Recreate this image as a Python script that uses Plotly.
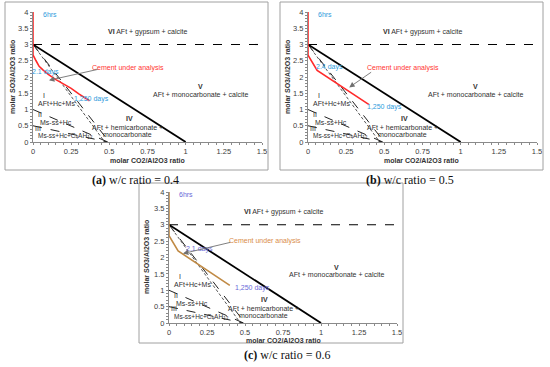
import plotly.graph_objects as go

W, H = 550, 367

# ---------------- data ----------------
x_ticks = [0, 0.25, 0.5, 0.75, 1, 1.25, 1.5]
x_tick_labels = ["0", "0.25", "0.5", "0.75", "1", "1.25", "1.5"]
y_ticks = [0, 0.5, 1, 1.5, 2, 2.5, 3, 3.5, 4]
y_tick_labels = ["0", "0.5", "1", "1.5", "2", "2.5", "3", "3.5", "4"]

# phase-boundary lines (same for all panels)
gyp_x, gyp_y = [0, 1.5], [3, 3]
mono_x, mono_y = [0, 1], [3, 0]
b1_x, b1_y = [0, 0.5], [3, 0]
b2_x, b2_y = [0, 0.47], [3, 0]
b3_x, b3_y = [0, 0.49], [1, 0]
b4_x, b4_y = [0, 0.49], [0.5, 0]

# cement trajectories (6 hrs -> 1,250 days)
a_path_x = [0, 0, 0.02, 0.04, 0.065, 0.1, 0.15, 0.2, 0.25, 0.3, 0.37]
a_path_y = [4, 2.68, 2.5, 2.33, 2.22, 2.08, 1.92, 1.78, 1.65, 1.48, 1.27]
b_path_x = [0, 0, 0.06, 0.4]
b_path_y = [4, 2.67, 2.2, 1.15]
c_path_x = [0, 0, 0.06, 0.4]
c_path_y = [4, 2.67, 2.2, 1.15]

captions = ["<b>(a)</b> w/c ratio = 0.4", "<b>(b)</b> w/c ratio = 0.5", "<b>(c)</b> w/c ratio = 0.6"]
early_labels = ["2.1 days", "2.4 days", "2.1 days"]

# ---------------- layout geometry ----------------
def px_x(p):
    return p / W

def px_y(p):
    return 1 - p / H

panels = [
    dict(dom_x=(33, 262), dom_y=(12, 142), box=(5, 2, 268, 170), cap=(135, 180),
         xt=(147, 160), yt=(12, 77),
         path=(a_path_x, a_path_y), pcol="#ff2a2a", lcol="#2e9bdc", ccol="#ff3333",
         early=(0.085, 2.15), late=(0.385, 1.33), cem=(0.62, 2.27),
         arrow_from=(0.44, 2.25), arrow_to=(0.105, 1.9)),
    dict(dom_x=(308, 537), dom_y=(12, 142), box=(280, 2, 543, 170), cap=(410, 180),
         xt=(422, 160), yt=(287, 77),
         path=(b_path_x, b_path_y), pcol="#ff2a2a", lcol="#2e9bdc", ccol="#ff3333",
         early=(0.14, 2.32), late=(0.5, 1.08), cem=(0.62, 2.27),
         arrow_from=(0.43, 2.2), arrow_to=(0.27, 1.68)),
    dict(dom_x=(169, 397), dom_y=(192, 323), box=(139, 183, 403, 343), cap=(287, 355),
         xt=(283, 340), yt=(146, 257),
         path=(c_path_x, c_path_y), pcol="#c08a45", lcol="#6a6ad8", ccol="#d98c4a",
         early=(0.2, 2.26), late=(0.55, 1.07), cem=(0.63, 2.5),
         arrow_from=(0.42, 2.48), arrow_to=(0.092, 2.12)),
]

NARROW = "Liberation Sans Narrow, Liberation Sans"

region_labels = [
    ("<b>VI</b> AFt + gypsum + calcite", 0.75, 3.38, "center", 7),
    ("<b>V</b>", 1.1, 1.7, "center", 7),
    ("AFt + monocarbonate + calcite", 1.1, 1.47, "center", 7),
    ("<b>IV</b>", 0.63, 0.72, "center", 7),
    ("AFt + hemicarbonate +", 0.62, 0.45, "center", 7),
    ("monocarbonate", 0.62, 0.24, "center", 7),
    ("I", 0.07, 1.42, "center", 7),
    ("AFt+Hc+Ms", 0.155, 1.17, "center", 7),
    ("II", 0.045, 0.84, "center", 7),
    ("Ms-ss+Hc", 0.035, 0.59, "left", 7),
    ("III", 0.03, 0.43, "center", 7),
    ("Ms-ss+Hc+C<sub>4</sub>AH<sub>13</sub>", 0.02, 0.18, "left", 6.5),
]

fig = go.Figure()
shapes = []
annotations = []
TICKFONT = dict(family="Liberation Sans", size=7.5, color="#404040")

for i, p in enumerate(panels):
    s = "" if i == 0 else str(i + 1)
    xa, ya = "x" + s, "y" + s
    line_specs = [
        (gyp_x, gyp_y, dict(color="black", width=1.1, dash="dash")),
        (b1_x, b1_y, dict(color="#222", width=1.0, dash="dash")),
        (b2_x, b2_y, dict(color="#444", width=0.9, dash="3px,2px")),
        (b3_x, b3_y, dict(color="#222", width=1.0, dash="dash")),
        (b4_x, b4_y, dict(color="#222", width=1.0, dash="dash")),
        (mono_x, mono_y, dict(color="black", width=1.8)),
    ]
    for lx, ly, ls in line_specs:
        fig.add_trace(go.Scatter(x=lx, y=ly, mode="lines", line=ls, xaxis=xa, yaxis=ya,
                                 showlegend=False, hoverinfo="skip", cliponaxis=False))
    fig.add_trace(go.Scatter(x=p["path"][0], y=p["path"][1], mode="lines",
                             line=dict(color=p["pcol"], width=1.6), xaxis=xa, yaxis=ya,
                             showlegend=False, cliponaxis=False))

    layout_x = dict(domain=[px_x(p["dom_x"][0]), px_x(p["dom_x"][1])], range=[0, 1.5],
                    tickvals=x_ticks, ticktext=x_tick_labels, showgrid=False, zeroline=False,
                    showline=True, linecolor="#8a8a8a", linewidth=1, ticks="outside",
                    ticklen=2, tickcolor="#8a8a8a", tickfont=TICKFONT, anchor=ya, automargin=False,
                    minor=dict(dtick=0.05, ticks="outside", ticklen=2, tickcolor="#8a8a8a"))
    layout_y = dict(domain=[px_y(p["dom_y"][1]), px_y(p["dom_y"][0])], range=[0, 4],
                    tickvals=y_ticks, ticktext=y_tick_labels, showgrid=False, zeroline=False,
                    showline=True, linecolor="#8a8a8a", linewidth=1, ticks="outside",
                    ticklen=2, tickcolor="#8a8a8a", tickfont=TICKFONT, anchor=xa, automargin=False,
                    minor=dict(dtick=0.1, ticks="outside", ticklen=2, tickcolor="#8a8a8a"))
    fig.update_layout(**{("xaxis" + s): layout_x, ("yaxis" + s): layout_y})

    bx0, by0, bx1, by1 = p["box"]
    shapes.append(dict(type="rect", xref="paper", yref="paper",
                       x0=px_x(bx0), x1=px_x(bx1), y0=px_y(by1), y1=px_y(by0),
                       line=dict(color="#a0a0a0", width=1)))
    annotations.append(dict(text=captions[i], xref="paper", yref="paper",
                            x=px_x(p["cap"][0]), y=px_y(p["cap"][1]), showarrow=False,
                            xanchor="center", yanchor="middle",
                            font=dict(family="Liberation Serif", size=12, color="#111")))
    annotations.append(dict(text="<b>molar CO2/Al2O3 ratio</b>", xref="paper", yref="paper",
                            x=px_x(p["xt"][0]), y=px_y(p["xt"][1]), showarrow=False,
                            xanchor="center", yanchor="middle",
                            font=dict(family="Liberation Sans", size=7, color="#333")))
    annotations.append(dict(text="<b>molar SO3/Al2O3 ratio</b>", xref="paper", yref="paper",
                            x=px_x(p["yt"][0]), y=px_y(p["yt"][1]), showarrow=False, textangle=-90,
                            xanchor="center", yanchor="middle",
                            font=dict(family="Liberation Sans", size=7, color="#333")))
    for txt, tx, ty, al, fs in region_labels:
        annotations.append(dict(text=txt, xref=xa, yref=ya, x=tx, y=ty, showarrow=False,
                                xanchor=al, font=dict(family=NARROW, size=fs, color="#303030")))
    annotations.append(dict(text="6hrs", xref=xa, yref=ya, x=0.05, y=3.92, showarrow=False,
                            xanchor="left", font=dict(family=NARROW, size=7, color=p["lcol"])))
    annotations.append(dict(text=early_labels[i], xref=xa, yref=ya, x=p["early"][0], y=p["early"][1],
                            showarrow=False, font=dict(family=NARROW, size=7, color=p["lcol"])))
    annotations.append(dict(text="1,250 days", xref=xa, yref=ya, x=p["late"][0], y=p["late"][1],
                            showarrow=False, font=dict(family=NARROW, size=7, color=p["lcol"])))
    annotations.append(dict(text="Cement under analysis", xref=xa, yref=ya, x=p["cem"][0], y=p["cem"][1],
                            showarrow=False, font=dict(family=NARROW, size=7, color=p["ccol"])))
    annotations.append(dict(text=" ", xref=xa, yref=ya, axref=xa, ayref=ya,
                            x=p["arrow_to"][0], y=p["arrow_to"][1],
                            ax=p["arrow_from"][0], ay=p["arrow_from"][1],
                            showarrow=True, arrowhead=2, arrowsize=1.2, arrowwidth=0.9,
                            arrowcolor="#707070", font=dict(size=6)))

fig.update_layout(width=W, height=H, margin=dict(l=0, r=0, t=0, b=0),
                  paper_bgcolor="white", plot_bgcolor="white",
                  shapes=shapes, annotations=annotations, showlegend=False)

fig.write_html("out.html", config={"displayModeBar": False},
               post_script="document.body.style.margin='0px';document.body.style.overflow='hidden';")
